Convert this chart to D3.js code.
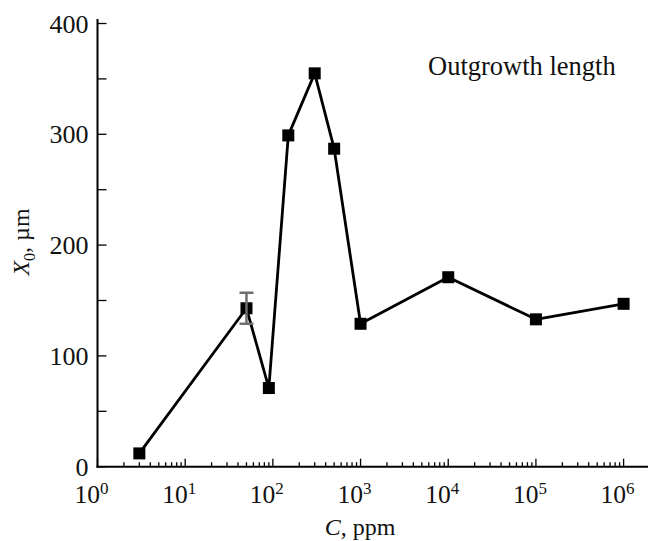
<!DOCTYPE html>
<html lang="en">
<head>
<meta charset="UTF-8">
<title>Outgrowth length</title>
<script src="https://d3js.org/d3.v7.min.js"></script>
<style>
  body { margin: 0; background: #fff; }
  svg { display: block; }
  text { font-family: "Liberation Serif", "Times New Roman", serif; fill: #111; }
</style>
</head>
<body>
<script>
// Data
const concentration = [3, 50, 90, 150, 300, 500, 1000, 1e4, 1e5, 1e6];   // C, ppm
const outgrowth = [12, 143, 71, 299, 355, 287, 129, 171, 133, 147];      // X0, um
const errorBars = [{ c: 50, low: 129, high: 157 }];
const yTickValues = [0, 100, 200, 300, 400];
const xDecades = [0, 1, 2, 3, 4, 5, 6];

const width = 648, height = 541;

const svg = d3.select("body").append("svg")
    .attr("width", width)
    .attr("height", height);

// Scales
const x = d3.scaleLog().domain([1, 1e6]).range([97.5, 623.6]);
const y = d3.scaleLinear().domain([0, 400]).range([466.7, 23.5]);

const fontSize = 25.5;
const isDecade = d => Math.abs(Math.log10(d) - Math.round(Math.log10(d))) < 1e-9;

// x axis: inward ticks, major at decades, minor in between
const xTicks = x.ticks().filter(d => d <= 1e6);
const gx = svg.append("g").attr("transform", `translate(0,${y(0)})`);
gx.selectAll("line.tick")
    .data(xTicks)
    .join("line")
    .attr("x1", d => x(d)).attr("x2", d => x(d))
    .attr("y1", 0)
    .attr("y2", d => isDecade(d) ? -8 : -4.5)
    .attr("stroke", "#000").attr("stroke-width", 1.3);
gx.append("line")
    .attr("x1", x(1) - 1).attr("x2", width)
    .attr("stroke", "#000").attr("stroke-width", 2);

// decade labels 10^n
const xLabels = gx.selectAll("text.xl")
    .data(xDecades)
    .join("text")
    .attr("class", "xl")
    .attr("x", d => x(Math.pow(10, d)) - 6)
    .attr("y", 36)
    .attr("text-anchor", "middle")
    .style("font-size", fontSize + "px");
xLabels.append("tspan").text("10");
xLabels.append("tspan")
    .attr("dy", -9)
    .style("font-size", "17px")
    .text(d => d);

// y axis: inward ticks every 50
const gy = svg.append("g").attr("transform", `translate(${x(1)},0)`);
gy.selectAll("line.tick")
    .data(d3.range(0, 401, 50))
    .join("line")
    .attr("y1", d => y(d)).attr("y2", d => y(d))
    .attr("x1", 0).attr("x2", 9)
    .attr("stroke", "#000").attr("stroke-width", 1.3);
gy.append("line")
    .attr("y1", y(0) + 1).attr("y2", y(404))
    .attr("stroke", "#000").attr("stroke-width", 2);
gy.selectAll("text.yl")
    .data(yTickValues)
    .join("text")
    .attr("class", "yl")
    .attr("x", -9)
    .attr("y", d => y(d))
    .attr("dy", "0.35em")
    .attr("text-anchor", "end")
    .style("font-size", "26px")
    .text(d => d);

// data line
const line = d3.line()
    .x((d, i) => x(concentration[i]))
    .y(d => y(d));

svg.append("path")
    .datum(outgrowth)
    .attr("fill", "none")
    .attr("stroke", "#000")
    .attr("stroke-width", 2.8)
    .attr("stroke-linejoin", "round")
    .attr("d", line);

// square markers
const size = 12;
svg.selectAll("rect.pt")
    .data(outgrowth)
    .join("rect")
    .attr("class", "pt")
    .attr("x", (d, i) => x(concentration[i]) - size / 2)
    .attr("y", d => y(d) - size / 2)
    .attr("width", size)
    .attr("height", size)
    .attr("fill", "#000");

// error bar (grey, drawn over the marker)
const eb = svg.selectAll("g.eb")
    .data(errorBars)
    .join("g")
    .attr("stroke", "#6e6e6e")
    .attr("stroke-width", 2.5);
eb.append("line")
    .attr("x1", d => x(d.c)).attr("x2", d => x(d.c))
    .attr("y1", d => y(d.low)).attr("y2", d => y(d.high));
eb.append("line")
    .attr("x1", d => x(d.c) - 7).attr("x2", d => x(d.c) + 7)
    .attr("y1", d => y(d.high)).attr("y2", d => y(d.high));
eb.append("line")
    .attr("x1", d => x(d.c) - 7).attr("x2", d => x(d.c) + 7)
    .attr("y1", d => y(d.low)).attr("y2", d => y(d.low));

// axis titles
const xt = svg.append("text")
    .attr("x", 360)
    .attr("y", 535)
    .attr("text-anchor", "middle")
    .style("font-size", "24px");
xt.append("tspan").style("font-style", "italic").text("C");
xt.append("tspan").text(", ppm");

const yt = svg.append("text")
    .attr("transform", `translate(29,242) rotate(-90)`)
    .attr("text-anchor", "middle")
    .style("font-size", "24px");
yt.append("tspan").style("font-style", "italic").text("X");
yt.append("tspan").attr("dy", 6).style("font-size", "16px").text("0");
yt.append("tspan").attr("dy", -6).text(", \u00b5m");

// annotation
svg.append("text")
    .attr("x", 428)
    .attr("y", 75)
    .style("font-size", "26.5px")
    .text("Outgrowth length");
</script>
</body>
</html>
